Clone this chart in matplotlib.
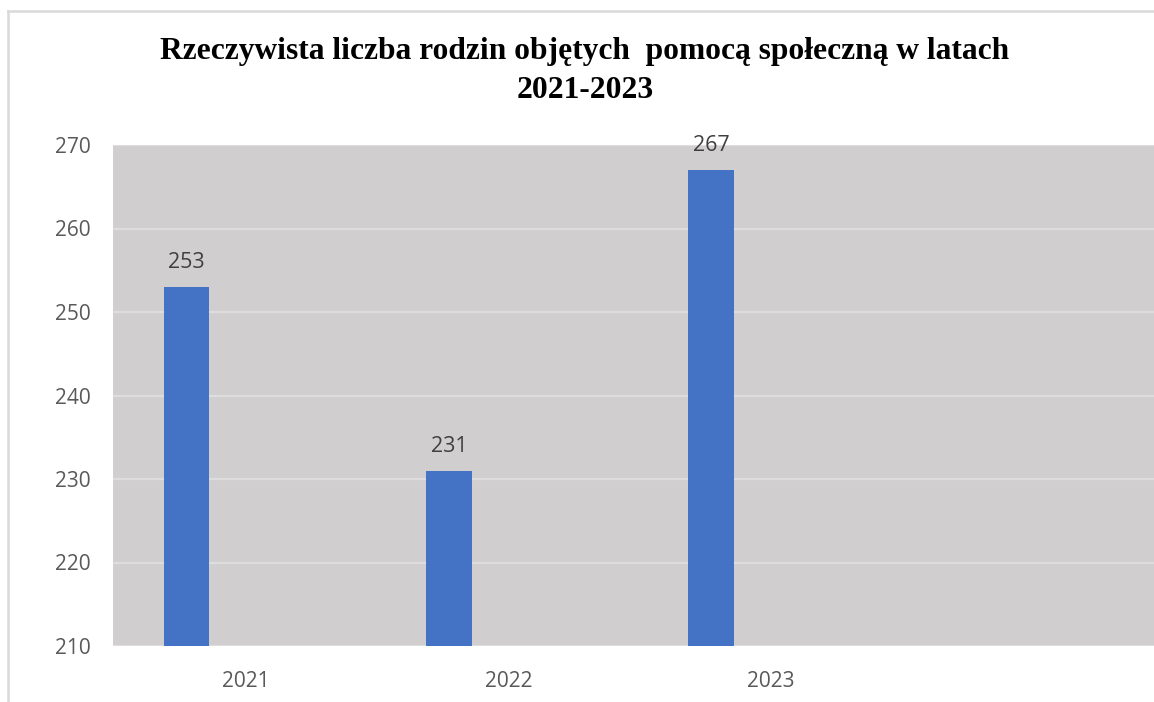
import matplotlib
matplotlib.use("Agg")
import matplotlib.pyplot as plt
from matplotlib.lines import Line2D

# data
years = ["2021", "2022", "2023"]
families = [253, 231, 267]
y_ticks = [210, 220, 230, 240, 250, 260, 270]

title = "Rzeczywista liczba rodzin objętych  pomocą społeczną w latach\n2021-2023"

bar_color = "#4472C4"
plot_bg = "#D0CECE"
grid_color = "#DEDDDD"
text_grey = "#595959"

fig = plt.figure(figsize=(11.54, 7.02), dpi=100)
ax = fig.add_axes([113 / 1154, 56 / 702, 1 - 113 / 1154, 501 / 702])
ax.set_facecolor(plot_bg)

# categories sit at 0, 1, 2 ... bars are the first slot of a wider cluster
pos = list(range(len(years)))
bar_pos = [p - 0.227 for p in pos]
bars = ax.bar(bar_pos, families, width=0.175, color=bar_color, zorder=3)

for b, v in zip(bars, families):
    ax.annotate(str(v), (b.get_x() + b.get_width() / 2, v),
                xytext=(0, 10), textcoords="offset points",
                ha="center", va="bottom", fontsize=15.5,
                family="Open Sans", color="#404040")

ax.set_ylim(210, 270)
ax.set_xlim(-0.507, 3.459)
ax.set_yticks(y_ticks)
ax.set_xticks(pos)
ax.set_xticklabels(years)

for t in y_ticks:
    ax.axhline(t, color=grid_color, lw=1.6, zorder=1)

for s in ax.spines.values():
    s.set_visible(False)
ax.tick_params(length=0, labelsize=15, labelcolor=text_grey)
ax.tick_params(axis="y", pad=16)
ax.tick_params(axis="x", pad=18)
for lab in ax.get_xticklabels() + ax.get_yticklabels():
    lab.set_family("Open Sans")

fig.text(585 / 1154, 1 - 71 / 702, title, ha="center", va="center",
         family="Liberation Serif", fontweight="bold", fontsize=22.7,
         linespacing=1.42)

# chart frame (cropped on right and bottom)
frame = "#D9D9D9"
fig.add_artist(Line2D([8 / 1154, 1], [1 - 11 / 702, 1 - 11 / 702],
                      color=frame, lw=1.8, transform=fig.transFigure))
fig.add_artist(Line2D([8 / 1154, 8 / 1154], [0, 1 - 11 / 702],
                      color=frame, lw=1.8, transform=fig.transFigure))

fig.savefig("out.png", dpi=100)
